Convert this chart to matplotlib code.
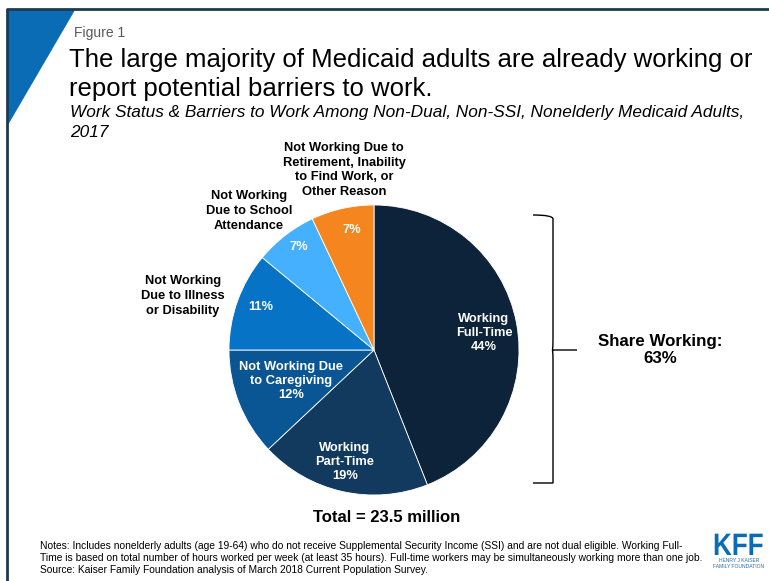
import matplotlib.pyplot as plt
from matplotlib.patches import Polygon, PathPatch
from matplotlib.path import Path
from matplotlib.textpath import TextPath
from matplotlib.font_manager import FontProperties
from matplotlib.transforms import Affine2D

plt.rcParams['font.family'] = ['Liberation Sans', 'DejaVu Sans']

# work status shares, percent of nonelderly Medicaid adults
categories = ['Working Full-Time', 'Working Part-Time', 'Not Working Due to Caregiving',
              'Not Working Due to Illness or Disability', 'Not Working Due to School Attendance',
              'Not Working Due to Retirement, Inability to Find Work, or Other Reason']
shares = [44, 19, 12, 11, 7, 7]
colors = ['#0c233a', '#113a5e', '#0a5593', '#0673c6', '#45b0fd', '#f5861f']
share_working = 63
total_millions = 23.5

W, H = 769, 581
fig = plt.figure(figsize=(W / 100, H / 100), dpi=100)
ax = fig.add_axes([0, 0, 1, 1])


def Y(y):
    # pixel rows measured from the top
    return H - y


# pie
cx, cy, r = 374, Y(350), 145
ax.pie(shares, colors=colors, startangle=90, counterclock=False, center=(cx, cy), radius=r,
       wedgeprops=dict(edgecolor='white', linewidth=0.6), frame=True)
ax.set_xlim(0, W)
ax.set_ylim(0, H)
ax.set_aspect('equal')
ax.axis('off')

# frame and corner triangle
ax.plot([7, 7, W], [0, Y(9), Y(9)], color='#1d3a50', lw=2, solid_capstyle='butt')
ax.add_patch(Polygon([(8, Y(10)), (75, Y(10)), (8, Y(125))], closed=True,
                     facecolor='#0b6cb6', edgecolor='none'))

ax.text(74, Y(37), 'Figure 1', fontsize=10, color='#595959', va='baseline')
ax.text(69, Y(67), 'The large majority of Medicaid adults are already working or',
        fontsize=18.5, va='baseline')
ax.text(69, Y(96), 'report potential barriers to work.', fontsize=18.5, va='baseline')
ax.text(70, Y(117), 'Work Status & Barriers to Work Among Non-Dual, Non-SSI, Nonelderly Medicaid Adults,',
        fontsize=12.4, style='italic', va='baseline')
ax.text(70, Y(137), '2017', fontsize=12.4, style='italic', va='baseline')

inside = dict(color='white', fontweight='bold', fontsize=9.3, ha='center', va='center',
              linespacing=1.25)
ax.text(484, Y(333), 'Working\nFull-Time\n{}%'.format(shares[0]), **inside)
ax.text(345, Y(462), 'Working\nPart-Time\n{}%'.format(shares[1]), **inside)
ax.text(291, Y(381), 'Not Working Due\nto Caregiving\n{}%'.format(shares[2]), **inside)
ax.text(261, Y(307), '{}%'.format(shares[3]), **inside)
ax.text(299, Y(247), '{}%'.format(shares[4]), **inside)
ax.text(352, Y(230), '{}%'.format(shares[5]), **inside)

outside = dict(color='black', fontweight='bold', fontsize=9.3, ha='center', va='center',
               linespacing=1.3)
ax.text(183, Y(296), 'Not Working\nDue to Illness\nor Disability', **outside)
ax.text(249, Y(211), 'Not Working\nDue to School\nAttendance', **outside)
ax.text(344, Y(170), 'Not Working Due to\nRetirement, Inability\nto Find Work, or\nOther Reason', **outside)

# curly bracket around the working slices
x0, xv, xt = 533, 553, 577
yt, ym, yb = Y(215), Y(350), Y(483)
verts = [(x0, yt), (xv, yt), (xv, yt - 4), (xv, yt - 10),
         (xv, ym + 10), (xv, ym + 3), (xv - 0.5, ym), (xt, ym),
         (xv - 0.5, ym), (xv, ym - 3), (xv, ym - 10),
         (xv, yb + 10), (xv, yb + 4), (xv, yb), (x0, yb)]
codes = [Path.MOVETO, Path.CURVE3, Path.CURVE3, Path.LINETO,
         Path.LINETO, Path.CURVE3, Path.CURVE3, Path.LINETO,
         Path.MOVETO, Path.CURVE3, Path.CURVE3,
         Path.LINETO, Path.CURVE3, Path.CURVE3, Path.LINETO]
ax.add_patch(PathPatch(Path(verts, codes), facecolor='none', edgecolor='black', lw=1))

ax.text(660, Y(350), 'Share Working:\n{}%'.format(share_working), fontsize=12.2,
        fontweight='bold', ha='center', va='center', linespacing=1.2)
ax.text(387, Y(518), 'Total = {} million'.format(total_millions), fontsize=12,
        fontweight='bold', ha='center', va='center')

notes = ('Notes: Includes nonelderly adults (age 19-64) who do not receive Supplemental Security Income (SSI) '
         'and are not dual eligible. Working Full-\n'
         'Time is based on total number of hours worked per week (at least 35 hours). Full-time workers may be '
         'simultaneously working more than one job.\n'
         'Source: Kaiser Family Foundation analysis of March 2018 Current Population Survey.')
ax.text(40, Y(558), notes, fontsize=7.4, va='center', linespacing=1.2)

# KFF mark, condensed letters
kff = TextPath((0, 0), 'KFF', size=31, prop=FontProperties(family='Liberation Sans', weight='bold'))
kff = Affine2D().scale(0.84, 1.0).translate(713, Y(555)).transform_path(kff)
ax.add_patch(PathPatch(kff, facecolor='#0a6cb5', edgecolor='none'))
ax.text(739, Y(561), 'HENRY J KAISER', fontsize=3.6, color='#2a6fa8', ha='center', va='center')
ax.text(739, Y(567), 'FAMILY FOUNDATION', fontsize=3.6, color='#2a6fa8', ha='center', va='center')

fig.savefig('out.png', dpi=100)
